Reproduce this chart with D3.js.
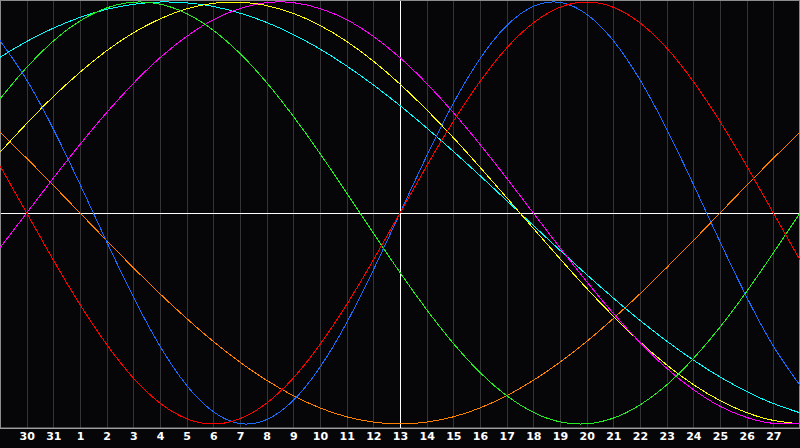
<!DOCTYPE html>
<html><head><meta charset="utf-8">
<script src="https://cdn.jsdelivr.net/npm/d3@7"></script>
<style>
html,body{margin:0;padding:0;background:#060609;}
svg{display:block;}
</style></head>
<body>
<script>
// day labels at grid positions 1..29
const dayLabels = ["30","31","1","2","3","4","5","6","7","8","9","10","11","12","13","14","15","16","17","18","19","20","21","22","23","24","25","26","27"];
// daily cycle values at day index 0..30
const physical = [0.817,0.631,0.398,0.136,-0.136,-0.398,-0.631,-0.817,-0.942,-0.998,-0.979,-0.888,-0.731,-0.520,-0.270,0,0.270,0.520,0.731,0.888,0.979,0.998,0.942,0.817,0.631,0.398,0.136,-0.136,-0.398,-0.631,-0.817];
const emotional = [0.223,0,-0.223,-0.434,-0.623,-0.782,-0.901,-0.975,-1,-0.975,-0.901,-0.782,-0.623,-0.434,-0.223,0,0.223,0.434,0.623,0.782,0.901,0.975,1,0.975,0.901,0.782,0.623,0.434,0.223,0,-0.223];
const intellectual = [0.541,0.690,0.815,0.910,0.972,0.999,0.990,0.945,0.866,0.756,0.618,0.458,0.282,0.095,-0.095,-0.282,-0.458,-0.618,-0.756,-0.866,-0.945,-0.990,-0.999,-0.972,-0.910,-0.815,-0.690,-0.541,-0.372,-0.189,0];
const intuition = [-0.165,0,0.165,0.325,0.476,0.614,0.736,0.837,0.916,0.969,0.997,0.997,0.969,0.916,0.837,0.736,0.614,0.476,0.325,0.165,0,-0.165,-0.325,-0.476,-0.614,-0.736,-0.837,-0.916,-0.969,-0.997,-0.997];
const aesthetic = [0.288,0.424,0.552,0.667,0.769,0.854,0.920,0.968,0.994,0.999,0.983,0.946,0.889,0.813,0.720,0.611,0.489,0.357,0.217,0.073,-0.073,-0.217,-0.357,-0.489,-0.611,-0.720,-0.813,-0.889,-0.946,-0.983,-0.999];
const awareness = [0.383,0.259,0.131,0,-0.131,-0.259,-0.383,-0.5,-0.609,-0.707,-0.793,-0.866,-0.924,-0.966,-0.991,-1,-0.991,-0.966,-0.924,-0.866,-0.793,-0.707,-0.609,-0.5,-0.383,-0.259,-0.131,0,0.131,0.259,0.383];
const spiritual = [0.738,0.813,0.876,0.927,0.965,0.989,1.000,0.996,0.979,0.947,0.903,0.846,0.777,0.697,0.607,0.509,0.403,0.292,0.177,0.059,-0.059,-0.177,-0.292,-0.403,-0.509,-0.607,-0.697,-0.777,-0.846,-0.903,-0.947];

const seriesList = [
  {name:"awareness", values:awareness, color:"#ff8000"},
  {name:"spiritual", values:spiritual, color:"#00ffff"},
  {name:"aesthetic", values:aesthetic, color:"#ffff00"},
  {name:"intuition", values:intuition, color:"#ff00ff"},
  {name:"intellectual", values:intellectual, color:"#22ee22"},
  {name:"physical", values:physical, color:"#1a6cff"},
  {name:"emotional", values:emotional, color:"#ff0000"}
];

const W = 800, H = 448;
const svg = d3.select("body").append("svg").attr("width", W).attr("height", H)
  .style("background", "#060609");

const x = d3.scaleLinear().domain([0, 30]).range([0, 800]);
const y = d3.scaleLinear().domain([-1, 1]).range([424, 2]);

// grid lines
const gridDays = d3.range(1, 30);
svg.append("g").selectAll("line").data(gridDays).join("line")
  .attr("x1", d => Math.round(x(d)) + 0.5).attr("x2", d => Math.round(x(d)) + 0.5)
  .attr("y1", 0).attr("y2", 428)
  .attr("stroke", "#333338").attr("stroke-width", 1);

// borders
svg.append("rect").attr("x", 0.5).attr("y", 0.5).attr("width", 799).attr("height", 427.5)
  .attr("fill", "none").attr("stroke", "#8c8c8c").attr("stroke-width", 1);

// center cross lines
svg.append("line").attr("x1", x(15) + 0.5).attr("x2", x(15) + 0.5).attr("y1", 1).attr("y2", 428)
  .attr("stroke", "#ffffff");
svg.append("line").attr("x1", 1).attr("x2", 799).attr("y1", Math.round(y(0)) + 0.5).attr("y2", Math.round(y(0)) + 0.5)
  .attr("stroke", "#ffffff");

// curves
const line = d3.line().x((d, i) => x(i)).y(d => y(d)).curve(d3.curveNatural);
svg.append("g").selectAll("path").data(seriesList).join("path")
  .attr("d", d => line(d.values))
  .attr("fill", "none")
  .attr("stroke", d => d.color)
  .attr("stroke-width", 1)
  .attr("shape-rendering", "crispEdges");

// bottom axis line
svg.append("line").attr("x1", 0).attr("x2", 800).attr("y1", 428.5).attr("y2", 428.5)
  .attr("stroke", "#a0a0a0");

// labels via axis
const axis = d3.axisBottom(x).tickValues(gridDays).tickSize(0).tickPadding(0)
  .tickFormat((d, i) => dayLabels[i]);
const ag = svg.append("g").attr("transform", "translate(0,432)").call(axis);
ag.select(".domain").remove();
ag.selectAll("text")
  .attr("fill", "#ffffff")
  .attr("dy", "0.71em")
  .style("font-family", "'DejaVu Sans', sans-serif")
  .style("font-size", "11px")
  .style("font-weight", "bold");
</script>
</body></html>
